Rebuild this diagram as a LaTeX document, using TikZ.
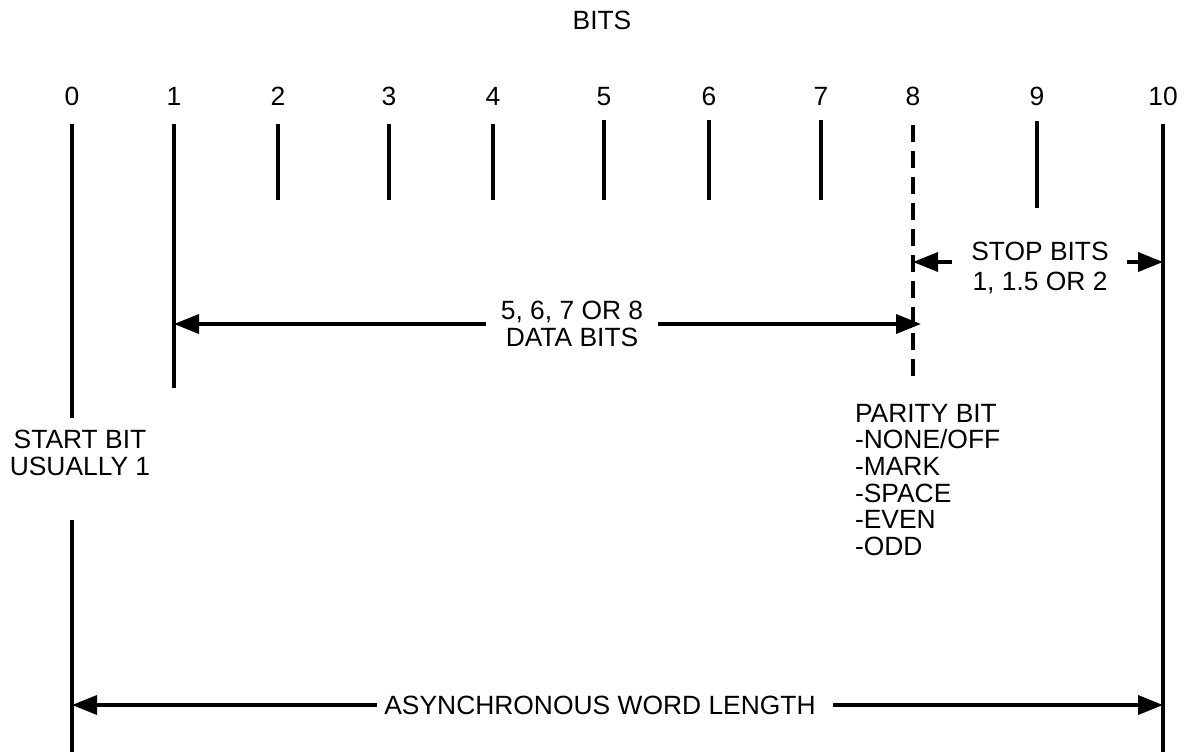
\documentclass[tikz,border=0pt]{standalone}
\usepackage{fontspec}
\setmainfont{Liberation Sans}
\usetikzlibrary{arrows.meta,positioning}

\begin{document}
\begin{tikzpicture}[x=0.5pt,y=-0.5pt,
		font=\fontsize{13.2}{13.3}\selectfont,
		bitline/.style={line width=1.8pt},
		parline/.style={line width=1.8pt, dash pattern=on 8.5pt off 4.5pt},
		arr/.style={line width=1.8pt, -{Triangle[length=12.5pt, width=9.5pt]}}]
		\useasboundingbox (0,0) rectangle (1184,752);
		\node [](bits) at (602,20) {BITS};
		% bit marks with their numbers
		\foreach \n/\x/\top/\bot/\s in {0/72/124/418/bitline, 1/174/124/388/bitline, 2/278/124/200/bitline, 3/389/124/200/bitline, 4/493/124/200/bitline, 5/604/120/200/bitline, 6/709/120/200/bitline, 7/821/120/200/bitline, 8/913/125/382/parline, 9/1037/121/208/bitline, 10/1163/124/752/bitline}{
			\node [anchor=base](b\n) at (\x,105) {\n};
			\coordinate (t\n) at (\x,\top);
			\coordinate (u\n) at (\x,\bot);
			\draw [\s] (t\n) -- (u\n);
		}
		\coordinate (v0) at (72,520);
		\coordinate (w0) at (72,752);
		\draw [bitline] (v0) -- (w0);
		% start bit
		\node [align=center](start) at (80,453) {START BIT\\USUALLY 1};
		% data bits
		\node [align=center, inner xsep=7pt](data) at (572,324) {5, 6, 7 OR 8\\DATA BITS};
		\coordinate (d1) at (174,324);
		\coordinate (d8) at (921,324);
		\draw [arr] (data.west) -- (d1);
		\draw [arr] (data.east) -- (d8);
		% stop bits
		\node [align=center](stop) at (1040,268) {STOP BITS\\[1.5pt]1, 1.5 OR 2};
		\coordinate (sa) at (952,262);
		\coordinate (sb) at (1127,262);
		\coordinate (s8) at (913,262);
		\coordinate (s10) at (1163,262);
		\draw [arr] (sa) -- (s8);
		\draw [arr] (sb) -- (s10);
		% parity bit
		\node [align=left, anchor=north west](parity) at (848,397) {PARITY BIT\\-NONE/OFF\\-MARK\\-SPACE\\-EVEN\\-ODD};
		% word length
		\node [](word) at (600,705) {ASYNCHRONOUS WORD LENGTH};
		\coordinate (wa) at (377,705);
		\coordinate (wb) at (833,705);
		\coordinate (l0) at (72,705);
		\coordinate (l10) at (1163,705);
		\draw [arr] (wa) -- (l0);
		\draw [arr] (wb) -- (l10);
\end{tikzpicture}
\end{document}
